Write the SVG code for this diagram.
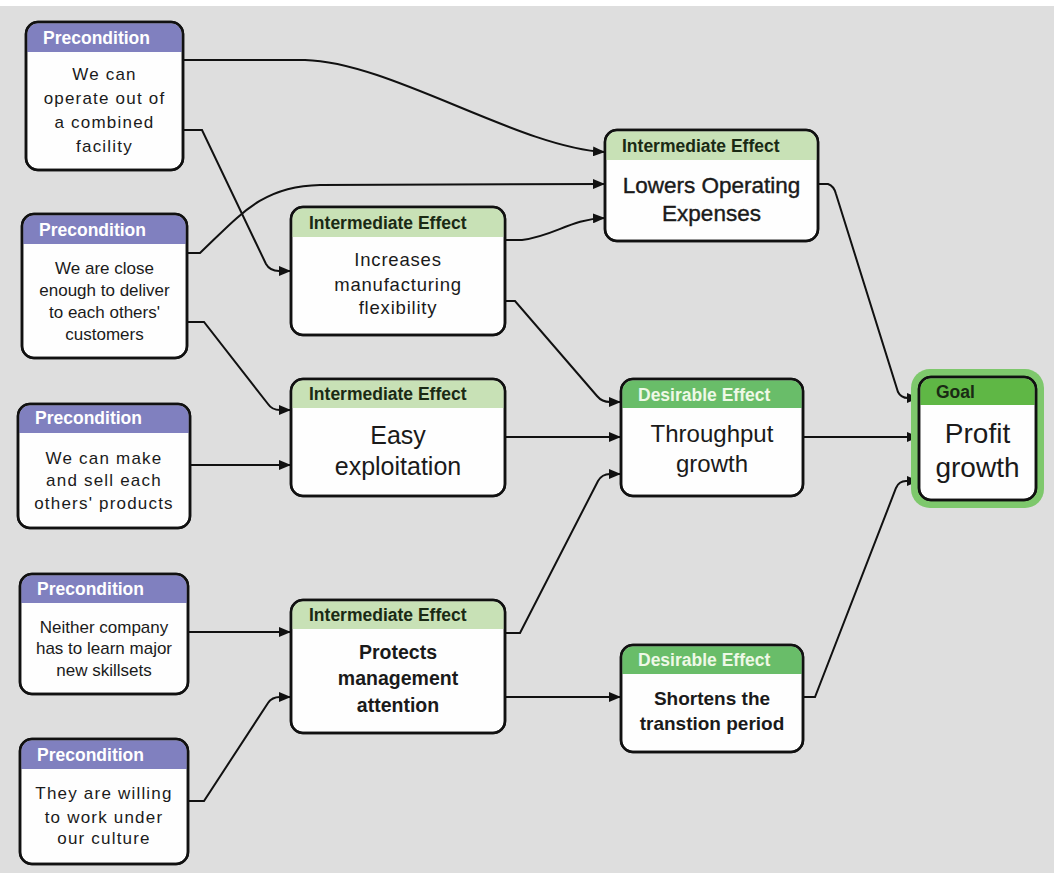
<svg xmlns="http://www.w3.org/2000/svg" width="1058" height="879" viewBox="0 0 1058 879">
<style>
.box{fill:#fefefe;stroke:#111;stroke-width:2.5}
.ol{fill:none;stroke:#111;stroke-width:2.5}
.hp{fill:#8080bf}
.hi{fill:#c8e1b6}
.hd{fill:#69bd69}
.hg{fill:#5fb745}
.ht{font-family:"Liberation Sans",Arial,sans-serif;font-weight:bold;font-size:17.5px}
.htw{fill:#fff}
.htd{fill:#1a2a14}
.htl{fill:#eef8e6}
.b{font-family:"Liberation Sans",Arial,sans-serif;fill:#1a1a1a;text-anchor:middle}
.p{font-size:17px}
.sp{letter-spacing:1.2px}
.c{fill:none;stroke:#111;stroke-width:2}
</style>
<defs>
<marker id="a" viewBox="0 0 12 10" refX="12" refY="5" markerWidth="12" markerHeight="10" markerUnits="userSpaceOnUse" orient="auto">
<path d="M0,0 L12,5 L0,10 Z" fill="#111"/>
</marker>
</defs>
<rect x="0" y="0" width="1058" height="879" fill="#ffffff"/>
<rect x="0" y="6" width="1054" height="867" fill="#dedede"/>

<g id="connectors">
<path class="c" marker-end="url(#a)" d="M183,60 L305,60 C390,62 520,148 605,152"/>
<path class="c" marker-end="url(#a)" d="M183,130 L202,130 L266,264 Q270,271 279,271 L291,271"/>
<path class="c" marker-end="url(#a)" d="M187,253 L200,253 C240,215 262,186 320,185 L605,184"/>
<path class="c" marker-end="url(#a)" d="M187,322 L204,322 L268,404 Q272,410 280,410 L291,410"/>
<path class="c" marker-end="url(#a)" d="M190,465 L291,465"/>
<path class="c" marker-end="url(#a)" d="M505,240 L522,240 C555,236 570,219 605,218"/>
<path class="c" marker-end="url(#a)" d="M505,301 L515,301 L597,396 Q602,402 610,402 L621,402"/>
<path class="c" marker-end="url(#a)" d="M505,437 L621,437"/>
<path class="c" marker-end="url(#a)" d="M505,633 L520,633 L598,481 Q602,474 610,474 L621,474"/>
<path class="c" marker-end="url(#a)" d="M505,697 L621,697"/>
<path class="c" marker-end="url(#a)" d="M188,632 L291,632"/>
<path class="c" marker-end="url(#a)" d="M188,801 L204,801 L268,703 Q272,697 280,697 L291,697"/>
<path class="c" marker-end="url(#a)" d="M818,184 L828,184 Q834,186 836,194 L898,392 Q901,398 908,398 L919,398"/>
<path class="c" marker-end="url(#a)" d="M803,437 L919,437"/>
<path class="c" marker-end="url(#a)" d="M803,697 L815,697 L896,488 Q899,481 906,481 L919,481"/>
</g>

<g id="p1">
<rect class="box" x="26" y="22" width="157" height="148" rx="12"/>
<path class="hp" d="M27.2,52 V34 A11,11 0 0 1 38,23.2 H171 A11,11 0 0 1 181.8,34 V52 Z"/>
<rect class="ol" x="26" y="22" width="157" height="148" rx="12"/>
<text class="ht htw" x="43" y="44">Precondition</text>
<text class="b p sp" x="104.5" y="80">We can</text>
<text class="b p sp" x="104.5" y="104">operate out of</text>
<text class="b p sp" x="104.5" y="128">a combined</text>
<text class="b p sp" x="104.5" y="152">facility</text>
</g>

<g id="p2">
<rect class="box" x="22" y="214" width="165" height="144" rx="12"/>
<path class="hp" d="M23.2,244 V226 A11,11 0 0 1 34,215.2 H175 A11,11 0 0 1 185.8,226 V244 Z"/>
<rect class="ol" x="22" y="214" width="165" height="144" rx="12"/>
<text class="ht htw" x="39" y="236">Precondition</text>
<text class="b p" x="104.5" y="274">We are close</text>
<text class="b p" x="104.5" y="296">enough to deliver</text>
<text class="b p" x="104.5" y="318">to each others'</text>
<text class="b p" x="104.5" y="340">customers</text>
</g>

<g id="p3">
<rect class="box" x="18" y="404" width="172" height="124" rx="12"/>
<path class="hp" d="M19.2,433 V416 A11,11 0 0 1 30,405.2 H178 A11,11 0 0 1 188.8,416 V433 Z"/>
<rect class="ol" x="18" y="404" width="172" height="124" rx="12"/>
<text class="ht htw" x="35" y="424">Precondition</text>
<text class="b p sp" x="104" y="464">We can make</text>
<text class="b p sp" x="104" y="486">and sell each</text>
<text class="b p sp" x="104" y="509">others' products</text>
</g>

<g id="p4">
<rect class="box" x="20" y="574" width="168" height="120" rx="12"/>
<path class="hp" d="M21.2,603 V586 A11,11 0 0 1 32,575.2 H176 A11,11 0 0 1 186.8,586 V603 Z"/>
<rect class="ol" x="20" y="574" width="168" height="120" rx="12"/>
<text class="ht htw" x="37" y="595">Precondition</text>
<text class="b p" x="104" y="633">Neither company</text>
<text class="b p" x="104" y="654">has to learn major</text>
<text class="b p" x="104" y="676">new skillsets</text>
</g>

<g id="p5">
<rect class="box" x="20" y="739" width="168" height="125" rx="12"/>
<path class="hp" d="M21.2,769 V751 A11,11 0 0 1 32,740.2 H176 A11,11 0 0 1 186.8,751 V769 Z"/>
<rect class="ol" x="20" y="739" width="168" height="125" rx="12"/>
<text class="ht htw" x="37" y="761">Precondition</text>
<text class="b p sp" x="104" y="799">They are willing</text>
<text class="b p sp" x="104" y="823">to work under</text>
<text class="b p sp" x="104" y="844">our culture</text>
</g>

<g id="ie1">
<rect class="box" x="291" y="207" width="214" height="128" rx="12"/>
<path class="hi" d="M292.2,237 V219 A11,11 0 0 1 303,208.2 H493 A11,11 0 0 1 503.8,219 V237 Z"/>
<rect class="ol" x="291" y="207" width="214" height="128" rx="12"/>
<text class="ht htd" x="309" y="229">Intermediate Effect</text>
<text class="b" font-size="18.5" letter-spacing="0.8" x="398" y="266">Increases</text>
<text class="b" font-size="18.5" letter-spacing="0.8" x="398" y="291">manufacturing</text>
<text class="b" font-size="18.5" letter-spacing="0.8" x="398" y="314">flexibility</text>
</g>

<g id="ie2">
<rect class="box" x="605" y="130" width="213" height="111" rx="12"/>
<path class="hi" d="M606.2,160 V142 A11,11 0 0 1 617,131.2 H806 A11,11 0 0 1 816.8,142 V160 Z"/>
<rect class="ol" x="605" y="130" width="213" height="111" rx="12"/>
<text class="ht htd" x="622" y="152">Intermediate Effect</text>
<text class="b" font-size="22.5" x="711.5" y="193" stroke="#1a1a1a" stroke-width="0.4">Lowers Operating</text>
<text class="b" font-size="22.5" x="711.5" y="221" stroke="#1a1a1a" stroke-width="0.4">Expenses</text>
</g>

<g id="ie3">
<rect class="box" x="291" y="379" width="214" height="117" rx="12"/>
<path class="hi" d="M292.2,408 V391 A11,11 0 0 1 303,380.2 H493 A11,11 0 0 1 503.8,391 V408 Z"/>
<rect class="ol" x="291" y="379" width="214" height="117" rx="12"/>
<text class="ht htd" x="309" y="400">Intermediate Effect</text>
<text class="b" font-size="25" x="398" y="444">Easy</text>
<text class="b" font-size="25" x="398" y="475">exploitation</text>
</g>

<g id="ie4">
<rect class="box" x="291" y="600" width="214" height="133" rx="12"/>
<path class="hi" d="M292.2,629 V612 A11,11 0 0 1 303,601.2 H493 A11,11 0 0 1 503.8,612 V629 Z"/>
<rect class="ol" x="291" y="600" width="214" height="133" rx="12"/>
<text class="ht htd" x="309" y="621">Intermediate Effect</text>
<text class="b" font-size="19.5" font-weight="bold" x="398" y="659">Protects</text>
<text class="b" font-size="19.5" font-weight="bold" x="398" y="685">management</text>
<text class="b" font-size="19.5" font-weight="bold" x="398" y="712">attention</text>
</g>

<g id="de1">
<rect class="box" x="621" y="379" width="182" height="117" rx="12"/>
<path class="hd" d="M622.2,408 V391 A11,11 0 0 1 633,380.2 H791 A11,11 0 0 1 801.8,391 V408 Z"/>
<rect class="ol" x="621" y="379" width="182" height="117" rx="12"/>
<text class="ht htl" x="638" y="401">Desirable Effect</text>
<text class="b" font-size="24" x="712" y="442">Throughput</text>
<text class="b" font-size="24" x="712" y="472">growth</text>
</g>

<g id="de2">
<rect class="box" x="621" y="645" width="182" height="107" rx="12"/>
<path class="hd" d="M622.2,674 V657 A11,11 0 0 1 633,646.2 H791 A11,11 0 0 1 801.8,657 V674 Z"/>
<rect class="ol" x="621" y="645" width="182" height="107" rx="12"/>
<text class="ht htl" x="638" y="666">Desirable Effect</text>
<text class="b" font-size="19" font-weight="bold" x="712" y="705">Shortens the</text>
<text class="b" font-size="19" font-weight="bold" x="712" y="730">transtion period</text>
</g>

<g id="goal">
<rect x="911" y="369" width="133" height="139" rx="19" fill="#7ec86c"/>
<rect class="box" x="919" y="377" width="117" height="123" rx="12"/>
<path class="hg" d="M920.2,405 V389 A11,11 0 0 1 931,378.2 H1024 A11,11 0 0 1 1034.8,389 V405 Z"/>
<rect class="ol" x="919" y="377" width="117" height="123" rx="12"/>
<text class="ht htd" x="936" y="398">Goal</text>
<text class="b" font-size="28" x="977.5" y="443">Profit</text>
<text class="b" font-size="28" x="977.5" y="477">growth</text>
</g>
</svg>
